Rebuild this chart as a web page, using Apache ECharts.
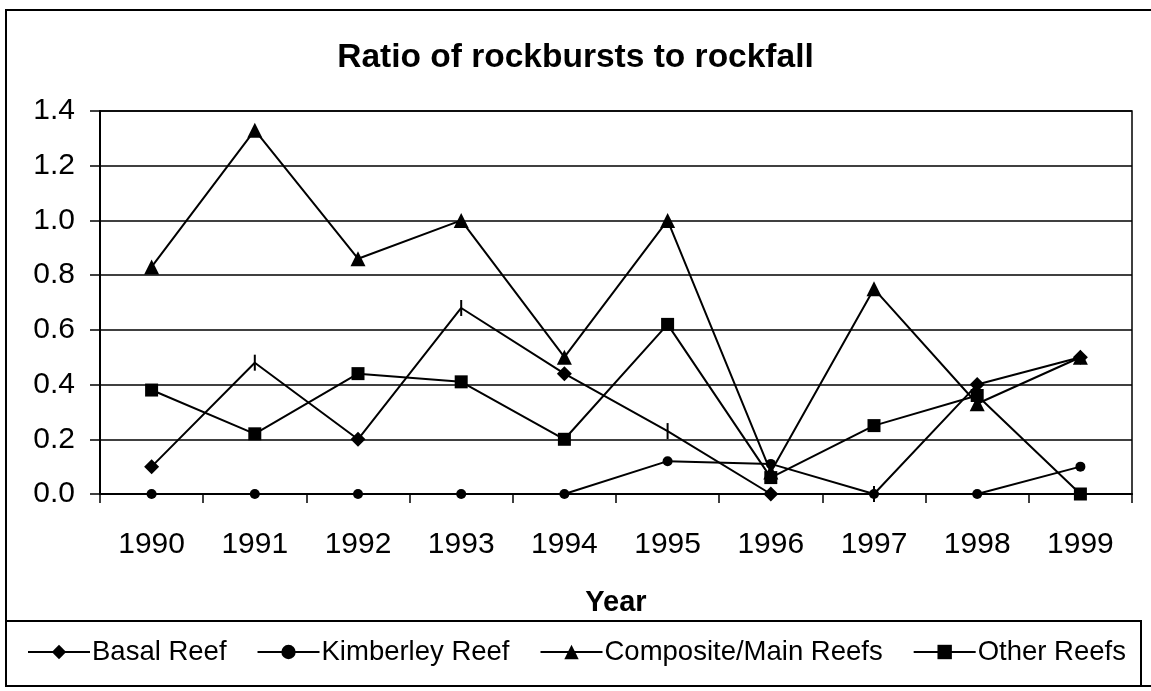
<!DOCTYPE html>
<html>
<head>
<meta charset="utf-8">
<script src="https://cdn.jsdelivr.net/npm/echarts@6/dist/echarts.min.js"></script>
<style>
html,body{margin:0;padding:0;background:#fff;}
#chart{width:1151px;height:691px;}
</style>
</head>
<body>
<div id="chart"></div>
<script>
const years = ['1990','1991','1992','1993','1994','1995','1996','1997','1998','1999'];
const basalReef = [0.10, 0.48, 0.20, 0.68, 0.44, 0.23, 0.00, 0.00, 0.40, 0.50];
const kimberleyReef = [0.00, 0.00, 0.00, 0.00, 0.00, 0.12, 0.11, 0.00, 0.00, 0.10];
const compositeMainReefs = [0.83, 1.33, 0.86, 1.00, 0.50, 1.00, 0.08, 0.75, 0.33, 0.50];
const otherReefs = [0.38, 0.22, 0.44, 0.41, 0.20, 0.62, 0.06, 0.25, 0.36, 0.00];
const yTicks = ['0.0','0.2','0.4','0.6','0.8','1.0','1.2','1.4'];

const FONT = "'Liberation Sans', Arial, sans-serif";
// In the reference, some Basal Reef markers are drawn as thin vertical ticks
const tickMarkerIdx = [1, 3, 5, 7];
const basalData = basalReef.map((v, i) =>
  tickMarkerIdx.includes(i) ? { value: v, symbol: 'rect', symbolSize: [2, 16] } : v);

function lineSeries(name, data, symbol, size) {
  return {
    name: name, type: 'line', data: data,
    symbol: symbol, symbolSize: size, showAllSymbol: true,
    lineStyle: { color: '#000', width: 2 },
    itemStyle: { color: '#000' },
    animation: false
  };
}

const chart = echarts.init(document.getElementById('chart'), null, { renderer: 'canvas' });
chart.setOption({
  backgroundColor: '#fff',
  animation: false,
  textStyle: { fontFamily: FONT },
  title: {
    text: 'Ratio of rockbursts to rockfall',
    left: 'center', top: 36,
    textStyle: { fontFamily: FONT, fontWeight: 'bold', fontSize: 33.5, color: '#000' }
  },
  graphic: [
    { type: 'rect', shape: { x: 6, y: 10, width: 1200, height: 676 }, style: { fill: 'none', stroke: '#000', lineWidth: 2 }, silent: true },
    { type: 'rect', shape: { x: 6, y: 621, width: 1135, height: 65 }, style: { fill: 'none', stroke: '#000', lineWidth: 2 }, silent: true }
  ],
  grid: {
    left: 100, top: 111, right: 19, bottom: 197,
    show: true, borderColor: '#000', borderWidth: 1.5, backgroundColor: 'transparent'
  },
  legend: {
    left: 22, top: 633, width: 1120,
    itemWidth: 62, itemHeight: 18, itemGap: 30,
    textStyle: { fontFamily: FONT, fontSize: 27.5, color: '#000', padding: [0, 0, 0, -3] },
    data: ['Basal Reef', 'Kimberley Reef', 'Composite/Main Reefs', 'Other Reefs']
  },
  xAxis: {
    type: 'category', data: years, boundaryGap: true,
    name: 'Year', nameLocation: 'middle', nameGap: 94,
    nameTextStyle: { fontFamily: FONT, fontWeight: 'bold', fontSize: 29, color: '#000' },
    axisLine: { show: true, lineStyle: { color: '#000', width: 2 } },
    axisTick: { show: true, inside: false, length: 9, lineStyle: { color: '#000', width: 1.5 } },
    axisLabel: { margin: 36, fontFamily: FONT, fontSize: 30, color: '#000' },
    splitLine: { show: false }
  },
  yAxis: {
    type: 'value', min: 0, max: 1.4, interval: 0.2,
    axisLine: { show: true, lineStyle: { color: '#000', width: 2 } },
    axisTick: { show: true, inside: false, length: 10, lineStyle: { color: '#000', width: 1.5 } },
    axisLabel: {
      margin: 25, fontFamily: FONT, fontSize: 30, color: '#000',
      formatter: (v) => yTicks[Math.round(v / 0.2)]
    },
    splitLine: { show: true, lineStyle: { color: '#000', width: 1.5 } }
  },
  series: [
    lineSeries('Basal Reef', basalData, 'diamond', 15),
    lineSeries('Kimberley Reef', kimberleyReef, 'circle', 10),
    lineSeries('Composite/Main Reefs', compositeMainReefs, 'triangle', 15),
    lineSeries('Other Reefs', otherReefs, 'rect', 13)
  ]
});
</script>
</body>
</html>
